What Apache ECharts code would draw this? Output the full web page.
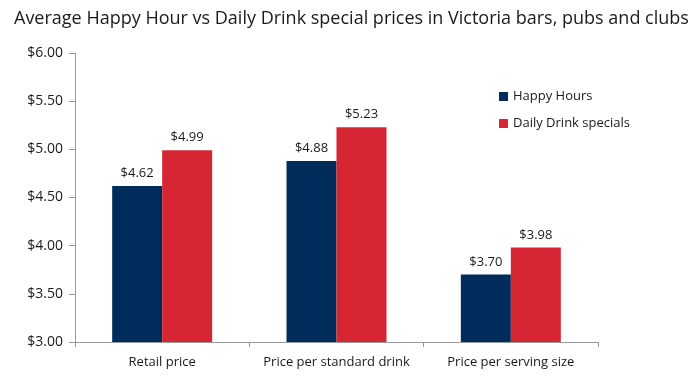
<!DOCTYPE html>
<html>
<head>
<meta charset="utf-8">
<script src="https://cdn.jsdelivr.net/npm/echarts@6/dist/echarts.min.js"></script>
<style>
  html, body { margin: 0; padding: 0; background: #fff; }
  #chart { width: 700px; height: 376px; }
</style>
</head>
<body>
<div id="chart"></div>
<script>
const categories = ['Retail price', 'Price per standard drink', 'Price per serving size'];
const happyHours = [4.62, 4.88, 3.70];
const dailySpecials = [4.99, 5.23, 3.98];

window.onload = init;

function init() {
    let chart = echarts.init(document.getElementById('chart'));
    let font = 'Open Sans';

    let labelStyle = {
        show: true,
        position: 'top',
        distance: 6,
        color: '#1a1a1a',
        fontFamily: font,
        fontSize: 13,
        formatter: p => '$' + p.value.toFixed(2)
    };

    let options = {
        animation: false,
        title: {
            text: 'Average Happy Hour vs Daily Drink special prices in Victoria bars, pubs and clubs',
            left: 9,
            top: 5,
            textStyle: { fontFamily: font, fontSize: 18, fontWeight: 'normal', color: '#1a1a1a' }
        },
        legend: {
            orient: 'vertical',
            left: 494,
            top: 85,
            itemWidth: 9,
            itemHeight: 9,
            itemGap: 14,
            icon: 'rect',
            textStyle: { fontFamily: font, fontSize: 13, color: '#1a1a1a' },
            data: ['Happy Hours', 'Daily Drink specials']
        },
        grid: { left: 75, right: 102, top: 53, bottom: 34, containLabel: false },
        xAxis: {
            type: 'category',
            data: categories,
            axisLine: { lineStyle: { color: '#999' } },
            axisTick: { show: true, alignWithLabel: false, length: 5, lineStyle: { color: '#999' } },
            axisLabel: { interval: 0, color: '#1a1a1a', fontFamily: font, fontSize: 13, margin: 14 }
        },
        yAxis: {
            type: 'value',
            min: 3,
            max: 6,
            interval: 0.5,
            splitLine: { show: false },
            axisLine: { show: true, lineStyle: { color: '#999' } },
            axisTick: { show: true, length: 6, lineStyle: { color: '#999' } },
            axisLabel: { color: '#1a1a1a', fontFamily: font, fontSize: 14, margin: 12, formatter: v => '$' + v.toFixed(2) }
        },
        series: [
            {
                name: 'Happy Hours',
                type: 'bar',
                data: happyHours,
                barWidth: 50,
                barGap: '0%',
                itemStyle: { color: '#002c5c' },
                label: labelStyle
            },
            {
                name: 'Daily Drink specials',
                type: 'bar',
                data: dailySpecials,
                barWidth: 50,
                itemStyle: { color: '#d62633' },
                label: labelStyle
            }
        ]
    };

    chart.setOption(options);
}
</script>
</body>
</html>
